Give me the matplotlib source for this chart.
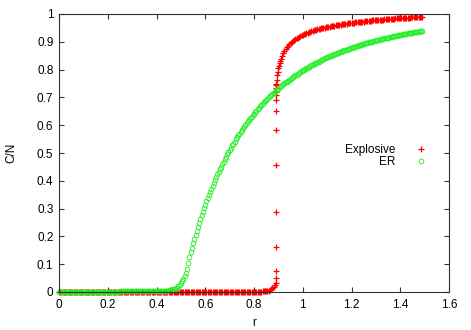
import numpy as np
import matplotlib
matplotlib.use("Agg")
import matplotlib.pyplot as plt

plt.rcParams['font.family'] = ['Liberation Sans', 'DejaVu Sans']

# ---------------- data ----------------
# ER series: r = 0.000 ... 1.490, step 0.005 (299 points)
er_r = np.round(np.linspace(0.0, 1.49, 299), 3)
er_v = [
    0.001, 0.001, 0.001, 0.001, 0.001, 0.001, 0.001, 0.001, 0.001, 0.001,
    0.001, 0.001, 0.001, 0.001, 0.001, 0.001, 0.001, 0.001, 0.001, 0.001,
    0.001, 0.001, 0.001, 0.001, 0.001, 0.001, 0.001, 0.001, 0.001, 0.001,
    0.001, 0.001, 0.001, 0.001, 0.001, 0.001, 0.001, 0.001, 0.001, 0.001,
    0.001, 0.001, 0.001, 0.001, 0.001, 0.001, 0.001, 0.001, 0.001, 0.001,
    0.002, 0.002, 0.002, 0.002, 0.002, 0.002, 0.002, 0.002, 0.002, 0.002,
    0.002, 0.002, 0.002, 0.002, 0.002, 0.002, 0.002, 0.002, 0.002, 0.002,
    0.002, 0.002, 0.002, 0.002, 0.003, 0.003, 0.003, 0.003, 0.003, 0.003,
    0.003, 0.003, 0.003, 0.003, 0.004, 0.004, 0.004, 0.005, 0.005, 0.005,
    0.006, 0.007, 0.008, 0.009, 0.010, 0.011, 0.013, 0.016, 0.020, 0.025,
    0.031, 0.038, 0.047, 0.057, 0.069, 0.084, 0.104, 0.126, 0.144, 0.160,
    0.176, 0.191, 0.206, 0.221, 0.235, 0.249, 0.262, 0.276, 0.289, 0.301,
    0.314, 0.326, 0.337, 0.349, 0.360, 0.371, 0.382, 0.393, 0.403, 0.413,
    0.423, 0.433, 0.442, 0.451, 0.460, 0.469, 0.478, 0.486, 0.495, 0.503,
    0.511, 0.519, 0.527, 0.534, 0.541, 0.549, 0.556, 0.563, 0.569, 0.576,
    0.583, 0.589, 0.595, 0.602, 0.608, 0.614, 0.620, 0.625, 0.631, 0.636,
    0.642, 0.647, 0.652, 0.657, 0.663, 0.668, 0.673, 0.677, 0.682, 0.686,
    0.691, 0.696, 0.700, 0.704, 0.708, 0.712, 0.717, 0.721, 0.725, 0.728,
    0.732, 0.736, 0.740, 0.743, 0.747, 0.751, 0.754, 0.757, 0.760, 0.764,
    0.767, 0.770, 0.773, 0.777, 0.779, 0.782, 0.785, 0.788, 0.791, 0.794,
    0.797, 0.800, 0.802, 0.805, 0.807, 0.810, 0.812, 0.815, 0.817, 0.820,
    0.822, 0.824, 0.827, 0.829, 0.831, 0.833, 0.835, 0.838, 0.840, 0.842,
    0.844, 0.846, 0.848, 0.850, 0.852, 0.853, 0.855, 0.857, 0.859, 0.861,
    0.862, 0.864, 0.866, 0.867, 0.869, 0.871, 0.872, 0.874, 0.875, 0.877,
    0.879, 0.880, 0.882, 0.883, 0.884, 0.886, 0.887, 0.889, 0.890, 0.891,
    0.893, 0.894, 0.895, 0.896, 0.898, 0.899, 0.900, 0.901, 0.902, 0.904,
    0.905, 0.906, 0.907, 0.908, 0.909, 0.910, 0.911, 0.912, 0.913, 0.914,
    0.915, 0.916, 0.918, 0.919, 0.920, 0.920, 0.921, 0.922, 0.923, 0.924,
    0.925, 0.926, 0.927, 0.927, 0.928, 0.929, 0.930, 0.931, 0.932, 0.932,
    0.933, 0.934, 0.935, 0.935, 0.936, 0.937, 0.938, 0.938, 0.939,
]

# Explosive series, below the transition: r = 0.000 ... 0.885, step 0.005
exp_pre_r = np.round(np.linspace(0.0, 0.885, 178), 3)
exp_pre_v = (
    [0.000] * 120 +
    [0.001] * 40 +
    [0.001, 0.001, 0.001, 0.001, 0.001, 0.001, 0.001, 0.002, 0.002, 0.002,
     0.003, 0.004, 0.005, 0.007, 0.009, 0.013, 0.018, 0.025]
)
# points on the jump
exp_jump_r = [0.8885, 0.8887, 0.8889, 0.8890, 0.8891, 0.8892, 0.8893,
              0.8894, 0.8895, 0.8896, 0.8897, 0.8898, 0.8899]
exp_jump_v = [0.031, 0.049, 0.077, 0.161, 0.288, 0.456, 0.583,
              0.652, 0.690, 0.709, 0.720, 0.733, 0.745]
# just after the jump
exp_post1_r = [0.890, 0.8925, 0.895, 0.8975, 0.900, 0.9025, 0.905, 0.9075, 0.910]
exp_post1_v = [0.748, 0.764, 0.779, 0.792, 0.804, 0.814, 0.823, 0.831, 0.838]
# r = 0.915 ... 1.490, step 0.005
exp_post2_r = np.round(np.linspace(0.915, 1.49, 116), 3)
exp_post2_v = [
    0.850, 0.859, 0.867, 0.874, 0.880, 0.886, 0.891, 0.895, 0.899, 0.903,
    0.906, 0.909, 0.912, 0.915, 0.918, 0.920, 0.923,
    0.925, 0.927, 0.929, 0.931, 0.933, 0.935, 0.936, 0.938, 0.939, 0.941,
    0.942, 0.943, 0.945, 0.946, 0.947, 0.948, 0.949, 0.950, 0.951, 0.952,
    0.953, 0.954, 0.955, 0.956, 0.957, 0.958, 0.958, 0.959, 0.960, 0.961,
    0.961, 0.962, 0.963, 0.963, 0.964, 0.965, 0.965, 0.966, 0.967, 0.967,
    0.968, 0.968, 0.969, 0.970, 0.970, 0.971, 0.971, 0.972, 0.972, 0.973,
    0.973, 0.974, 0.974, 0.975, 0.975, 0.976, 0.976, 0.977, 0.977, 0.977,
    0.978, 0.978, 0.979, 0.979, 0.979, 0.980, 0.980, 0.981, 0.981, 0.981,
    0.982, 0.982, 0.982, 0.983, 0.983, 0.983, 0.984, 0.984, 0.984, 0.985,
    0.985, 0.985, 0.986, 0.986, 0.986, 0.986, 0.987, 0.987, 0.987, 0.988,
    0.988, 0.988, 0.988, 0.989, 0.989, 0.989, 0.989, 0.990, 0.990,
]

x_ticks = [0, 0.2, 0.4, 0.6, 0.8, 1, 1.2, 1.4, 1.6]
x_tick_labels = ["0", "0.2", "0.4", "0.6", "0.8", "1", "1.2", "1.4", "1.6"]
y_ticks = [0, 0.1, 0.2, 0.3, 0.4, 0.5, 0.6, 0.7, 0.8, 0.9, 1]
y_tick_labels = ["0", "0.1", "0.2", "0.3", "0.4", "0.5", "0.6", "0.7", "0.8", "0.9", "1"]

exp_r = np.concatenate([exp_pre_r, exp_jump_r, exp_post1_r, exp_post2_r])
exp_v = np.concatenate([exp_pre_v, exp_jump_v, exp_post1_v, exp_post2_v])

# ---------------- figure ----------------
fig = plt.figure(figsize=(4.71, 3.30), dpi=100)
ax = fig.add_axes([59 / 471, 1 - 292 / 330, 390 / 471, 278 / 330])

ax.plot(exp_r, exp_v, linestyle='none', marker='+', color='#ff0000',
        markersize=5, markeredgewidth=0.9, clip_on=False, label='Explosive', zorder=2)
ax.plot(er_r, er_v, linestyle='none', marker='o', markerfacecolor='none',
        markeredgecolor='#22ee22', markersize=3.4, markeredgewidth=0.6,
        clip_on=False, label='ER', zorder=3)

ax.set_xlim(0, 1.6)
ax.set_ylim(0, 1)
ax.set_xticks(x_ticks)
ax.set_xticklabels(x_tick_labels)
ax.set_yticks(y_ticks)
ax.set_yticklabels(y_tick_labels)
ax.tick_params(direction='in', length=3.5, width=0.8, color='#333333',
               top=True, right=True, labelsize=8.5, labelcolor='black')
ax.tick_params(axis='x', pad=5)
ax.tick_params(axis='y', pad=4)
for s in ax.spines.values():
    s.set_linewidth(0.8)
    s.set_color('#333333')
    s.set_zorder(5)

ax.set_xlabel('r', fontsize=8.5, labelpad=4)
ax.set_ylabel('C/N', fontsize=8.5, labelpad=14)

leg = ax.legend(loc='center right', bbox_to_anchor=(0.965, 0.49), frameon=False,
                markerfirst=False, fontsize=8.5, handlelength=1.0,
                handletextpad=1.7, labelspacing=0.0, borderpad=0.2)
for t in leg.get_texts():
    t.set_ha('right')

fig.savefig('out.png', dpi=100)
